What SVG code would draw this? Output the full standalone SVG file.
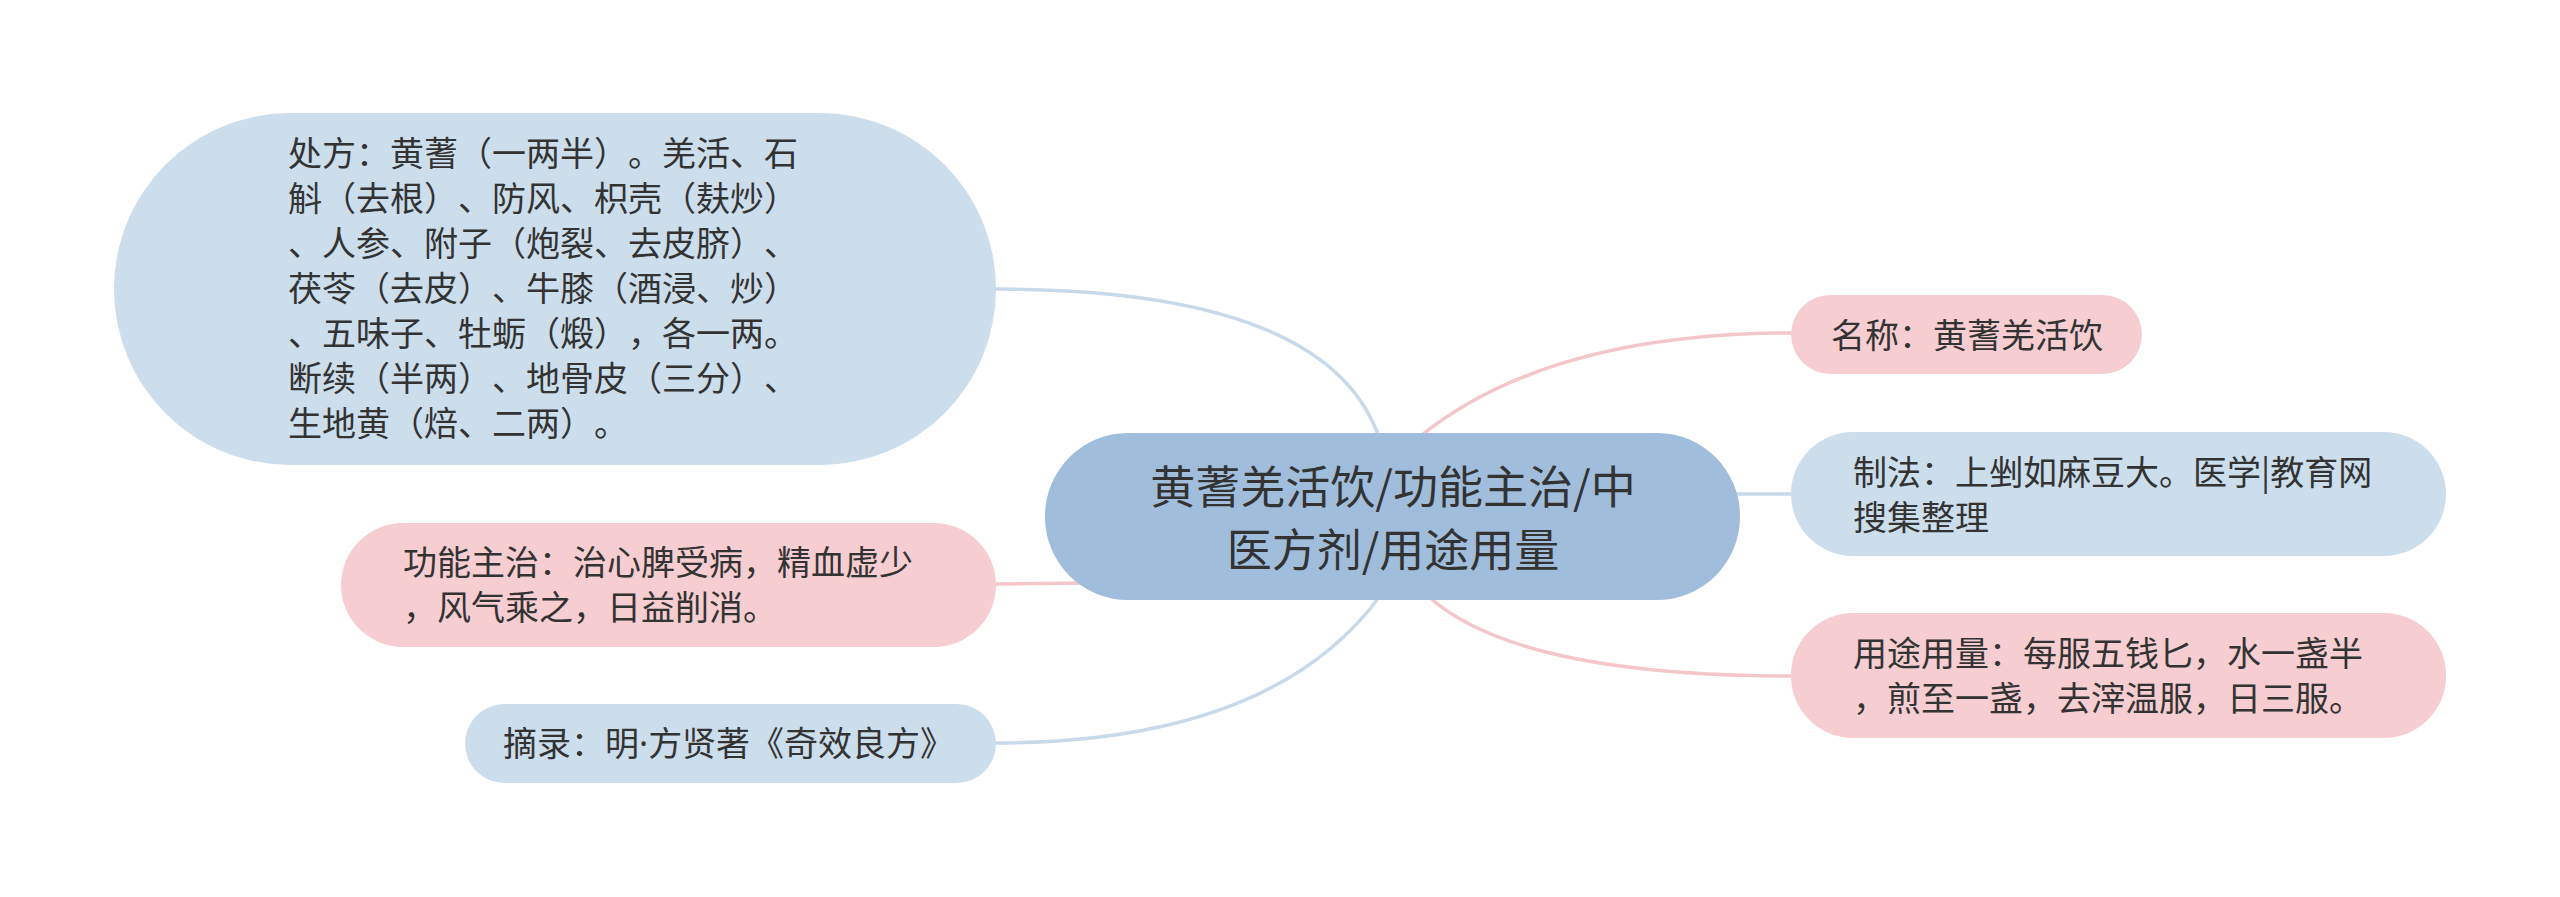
<svg xmlns="http://www.w3.org/2000/svg" width="2560" height="897" viewBox="0 0 2560 897">
<style>
.bg{fill:#ffffff}
.blue{fill:#ccddec}
.pink{fill:#f6cdd0}
.root{fill:#a0bedb}
.lb{fill:none;stroke:#c8d9ea;stroke-width:3.5;stroke-linecap:round}
.lp{fill:none;stroke:#f3c6ca;stroke-width:3.5;stroke-linecap:round}
text{font-family:"Noto Sans CJK SC","Noto Sans",sans-serif;fill:#333333;font-size:34px;text-spacing-trim:space-all;font-kerning:none}
.rt{font-size:45px;text-anchor:middle}
.dot{font-family:"Noto Sans",sans-serif}
</style>
<rect class="bg" x="0" y="0" width="2560" height="897"/>
<g id="connectors">
<path class="lb" d="M996,289 Q1330,289 1380,440"/>
<path class="lp" d="M1418,438 Q1547,333 1792,333"/>
<path class="lb" d="M1735,494 L1792,494"/>
<path class="lp" d="M1428,596 Q1516,676 1792,676"/>
<path class="lp" d="M995,584 L1085,583"/>
<path class="lb" d="M995,743 Q1272,743 1380,596"/>
</g>
<g id="node-root">
<rect class="root" x="1045" y="433" width="695" height="167" rx="83"/>
<text class="rt" x="1393" y="504">黄蓍羌活饮/功能主治/中</text>
<text class="rt" x="1393" y="567">医方剂/用途用量</text>
</g>
<g id="node-chufang">
<rect class="blue" x="114" y="113" width="882" height="352" rx="176"/>
<text x="288" y="166">处方：黄蓍（一两半）。羌活、石</text>
<text x="288" y="211">斛（去根）、防风、枳壳（麸炒）</text>
<text x="288" y="256">、人参、附子（炮裂、去皮脐）、</text>
<text x="288" y="301">茯苓（去皮）、牛膝（酒浸、炒）</text>
<text x="288" y="346">、五味子、牡蛎（煅），各一两。</text>
<text x="288" y="391">断续（半两）、地骨皮（三分）、</text>
<text x="288" y="436">生地黄（焙、二两）。</text>
</g>
<g id="node-gongneng">
<rect class="pink" x="341" y="523" width="655" height="124" rx="62"/>
<text x="403" y="575">功能主治：治心脾受病，精血虚少</text>
<text x="403" y="620">，风气乘之，日益削消。</text>
</g>
<g id="node-zhailu">
<rect class="blue" x="465" y="704" width="531" height="79" rx="39.5"/>
<text x="503" y="756">摘录：明<tspan class="dot">·</tspan>方贤著《奇效良方》</text>
</g>
<g id="node-mingcheng">
<rect class="pink" x="1791" y="295" width="351" height="79" rx="39.5"/>
<text x="1831" y="348">名称：黄蓍羌活饮</text>
</g>
<g id="node-zhifa">
<rect class="blue" x="1791" y="432" width="655" height="124" rx="62"/>
<text x="1853" y="485">制法：上剉如麻豆大。医学|教育网</text>
<text x="1853" y="530">搜集整理</text>
</g>
<g id="node-yongtu">
<rect class="pink" x="1791" y="613" width="655" height="125" rx="62"/>
<text x="1853" y="666">用途用量：每服五钱匕，水一盏半</text>
<text x="1853" y="711">，煎至一盏，去滓温服，日三服。</text>
</g>
</svg>
